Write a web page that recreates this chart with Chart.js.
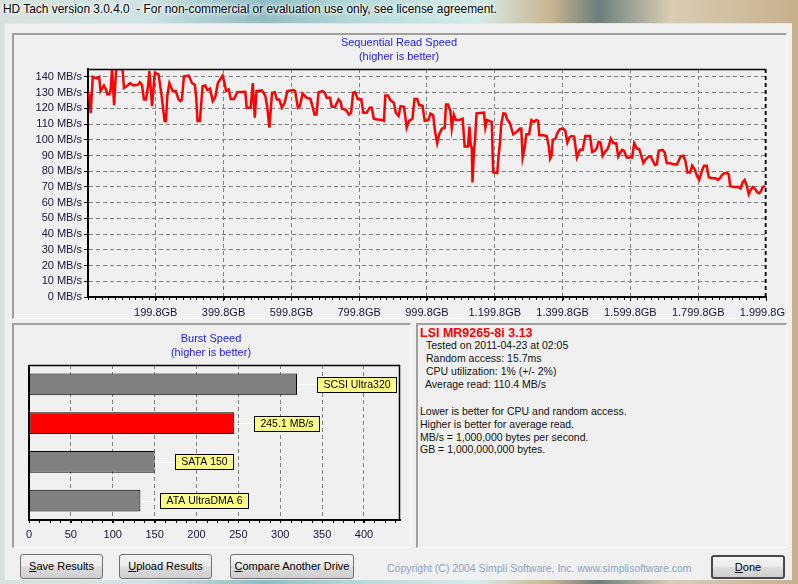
<!DOCTYPE html>
<html>
<head>
<meta charset="utf-8">
<title>HD Tach</title>
<script src="https://cdn.jsdelivr.net/npm/chart.js@4.4.0/dist/chart.umd.min.js"></script>
<style>
  body {
    margin: 0; width: 798px; height: 584px; position: relative; overflow: hidden;
    font-family: "Liberation Sans", Arial, sans-serif;
    background: linear-gradient(90deg, #d8e2dc 0%, #cfe4e4 18%, #8fbcc4 33%, #b8dcdc 46%, #d6ece8 60%, #c9b48f 69%, #6c7f7c 75%, #d9cdb3 84%, #c7b08e 100%);
  }
  .abs { position: absolute; }
  #caption {
    left: 3px; top: 2px; font-size: 11.9px; color: #000; white-space: pre;
    text-shadow: 0 0 6px #fff, 0 0 4px #fff, 0 0 2px #fff;
  }
  #client {
    left: 4px; top: 23px; width: 788px; height: 557px; background: #f0f0f0;
    border-top: 1px solid #dfe6ea; border-left: 1px solid #dfe6ea;
    box-sizing: border-box;
  }
  .panel {
    box-sizing: border-box; overflow: hidden; background: #f0f0f0;
    border-top: 2px solid #a0a0a0; border-left: 2px solid #a0a0a0;
    border-right: 1px solid #fff; border-bottom: 1px solid #fff;
  }
  .panel canvas { position: absolute; left: 0; top: 0; }
  .info { font-size: 10.5px; line-height: 13px; color: #111; white-space: pre; }
  .btn {
    box-sizing: border-box; font-size: 11px; color: #000; text-align: center;
    border: 1px solid #707070; border-radius: 3px;
    background: linear-gradient(#f3f3f3, #ebebeb 48%, #dddddd 52%, #cfcfcf);
  }
</style>
</head>
<body>
<div id="caption" class="abs">HD Tach version 3.0.4.0  - For non-commercial or evaluation use only, see license agreement.</div>
<div id="client" class="abs"></div>

<div class="abs panel" style="left:12px; top:33px; width:775px; height:286px;">
  <canvas id="readChart" width="784" height="281"></canvas>
</div>

<div class="abs panel" style="left:12px; top:323px; width:399px; height:225px;">
  <canvas id="burstChart" width="396" height="222"></canvas>
</div>

<div class="abs panel" style="left:416px; top:323px; width:371px; height:225px;"></div>
<div class="abs info" style="left:420px; top:326.5px; font-size:12.5px; font-weight:bold; color:#f00;">LSI MR9265-8i 3.13</div>
<div class="abs info" style="left:426px; top:339px;">Tested on 2011-04-23 at 02:05</div>
<div class="abs info" style="left:426px; top:352px;">Random access: 15.7ms</div>
<div class="abs info" style="left:426px; top:365px;">CPU utilization: 1% (+/- 2%)</div>
<div class="abs info" style="left:425px; top:378px;">Average read: 110.4 MB/s</div>
<div class="abs info" style="left:420px; top:404.5px;">Lower is better for CPU and random access.</div>
<div class="abs info" style="left:420px; top:417.5px;">Higher is better for average read.</div>
<div class="abs info" style="left:420px; top:430.5px;">MB/s = 1,000,000 bytes per second.</div>
<div class="abs info" style="left:420px; top:443px;">GB = 1,000,000,000 bytes.</div>

<div class="abs btn" style="left:20px; top:554px; width:83px; height:25px; line-height:23px;"><u>S</u>ave Results</div>
<div class="abs btn" style="left:119px; top:554px; width:93px; height:25px; line-height:23px;"><u>U</u>pload Results</div>
<div class="abs btn" style="left:230px; top:554px; width:124px; height:25px; line-height:23px;"><u>C</u>ompare Another Drive</div>
<div class="abs" style="left:387px; top:561.5px; font-size:10.5px; color:#8aa2c6; white-space:pre;">Copyright (C) 2004 Simpli Software, Inc. www.simplisoftware.com</div>
<div class="abs btn" style="left:711px; top:555px; width:74px; height:24px; line-height:20px; border:2px solid #4a4a4a;"><u>D</u>one</div>

<script>
// sequential read: drive position (GB) and read speed (MB/s)
const positionGB = [
  0, 4, 8, 14, 26, 33, 37, 43, 47, 53, 57, 63, 67, 71, 73, 77, 83, 102, 106, 114,
  124, 134, 148, 153, 159, 165, 171, 177, 181, 189, 197, 208, 216, 222, 226, 230, 234, 240, 250, 259,
  267, 273, 277, 283, 297, 307, 315, 319, 323, 330, 338, 346, 352, 360, 368, 375, 383, 397, 403, 407,
  415, 421, 431, 440, 464, 468, 480, 486, 492, 497, 513, 523, 529, 535, 543, 551, 557, 564, 572, 580,
  588, 606, 611, 619, 625, 633, 645, 656, 662, 668, 674, 680, 692, 698, 704, 714, 719, 729, 739, 745,
  749, 761, 770, 776, 782, 788, 796, 806, 812, 822, 831, 837, 843, 849, 867, 873, 877, 885, 892, 902,
  908, 916, 922, 932, 940, 947, 957, 963, 971, 977, 983, 987, 993, 1004, 1010, 1018, 1024, 1030, 1036, 1044,
  1052, 1056, 1062, 1069, 1073, 1079, 1085, 1095, 1105, 1111, 1121, 1125, 1129, 1132, 1134, 1138, 1142, 1146, 1168, 1172,
  1177, 1183, 1191, 1195, 1207, 1211, 1215, 1219, 1225, 1231, 1236, 1244, 1254, 1262, 1274, 1278, 1282, 1288, 1293, 1301,
  1308, 1316, 1322, 1328, 1331, 1343, 1353, 1359, 1363, 1367, 1371, 1379, 1385, 1392, 1402, 1408, 1414, 1420, 1426, 1434,
  1442, 1446, 1451, 1459, 1467, 1481, 1487, 1495, 1501, 1506, 1512, 1518, 1524, 1532, 1536, 1542, 1550, 1558, 1564, 1569,
  1575, 1581, 1589, 1599, 1605, 1611, 1619, 1626, 1632, 1638, 1644, 1654, 1660, 1666, 1672, 1678, 1683, 1695, 1701, 1707,
  1717, 1725, 1737, 1742, 1748, 1756, 1762, 1768, 1776, 1782, 1790, 1796, 1803, 1811, 1817, 1825, 1831, 1841, 1851, 1858,
  1864, 1870, 1876, 1886, 1890, 1894, 1906, 1918, 1925, 1931, 1937, 1943, 1949, 1955, 1961, 1968, 1974, 1980, 1986, 1990,
  1998
];
const readMBs = [
  130, 128, 117, 140, 139, 140, 131, 133, 134.5, 132, 129, 129, 132, 145, 145, 122, 145, 145, 133, 134,
  136, 134.5, 135, 136.5, 135, 125.6, 125.6, 134, 143.6, 121.4, 142.5, 141.5, 130, 119, 112, 112, 128, 136, 131, 131,
  125.6, 124.6, 125.6, 140.4, 140.8, 136, 135, 127.6, 112, 112, 134, 134.5, 131.6, 132.5, 124.6, 126.8, 136, 140.8, 136, 131,
  132, 126, 126, 130.3, 130.5, 120.4, 120.4, 136, 114, 131, 131.4, 128, 120.4, 107.7, 129.9, 130.3, 125.6, 125.6, 120.4, 123.5,
  131, 131.6, 131, 120.4, 121.4, 129.5, 126.7, 126, 121.4, 116, 116, 130.3, 131, 130, 126.7, 126.7, 121, 121, 125.7, 124.2,
  119.7, 119, 116, 117.2, 129.9, 130.3, 125.7, 125.7, 117.2, 117.2, 120.4, 120.4, 113.4, 113, 112.6, 112, 128.2, 128.2, 125.2, 123.5,
  117.2, 115.1, 121.4, 121, 107.7, 112, 113.4, 126, 126, 121.9, 121.9, 121.4, 112, 112.4, 116.6, 115.7, 104.6, 97.8, 103.5, 107.1,
  107.5, 122.5, 122.5, 118.3, 107.3, 116, 112.6, 112.6, 113.4, 95.7, 95.7, 108.4, 96.5, 95, 72.9, 90.8, 101.4, 116.8, 117.2, 107.7,
  112.6, 112, 111.3, 79.2, 78.8, 89.4, 97.8, 110, 116.8, 116.6, 113, 110.9, 103.5, 104.6, 107.1, 107.1, 88.7, 95, 103.5, 103.5,
  112.5, 111.3, 112.6, 112, 102.8, 102.8, 102.4, 96, 88, 89.8, 99.9, 100.7, 104.6, 106.7, 107.1, 105.6, 98.2, 101.4, 102.4, 102,
  88.7, 90.8, 93.6, 93.6, 102.4, 102.4, 92.3, 93, 95, 98.7, 98.2, 89.8, 92, 94, 96, 100.7, 97.8, 97.8, 89.4, 91.5,
  93.6, 93, 88.7, 88.7, 88.7, 97.8, 94.5, 94, 89.8, 85.2, 87.3, 89.4, 89.4, 86.6, 84, 84.4, 93, 93.6, 91.9, 85.2,
  85, 84.6, 84.2, 86.6, 89.4, 89.8, 86.6, 79.2, 79.2, 83.5, 81, 77.1, 74.5, 80.3, 83.5, 83.5, 76.2, 75.6, 75.6, 74.5,
  75.6, 77.5, 78.7, 78.7, 78, 70.5, 69.9, 69.9, 69.1, 73, 74.5, 70.7, 65.4, 68.2, 69.9, 68.7, 66.6, 66, 67.6, 69.9,
  70.5
];
const readTicksY = [0, 10, 20, 30, 40, 50, 60, 70, 80, 90, 100, 110, 120, 130, 140];
const readTicksX = [199.8, 399.8, 599.8, 799.8, 999.8, 1199.8, 1399.8, 1599.8, 1799.8, 1999.8];

// burst speed
const burstLabels = ['SCSI Ultra320', '245.1 MB/s', 'SATA 150', 'ATA UltraDMA 6'];
const burstValues = [320, 245.1, 150, 133];
const burstColors = ['#808080', '#ff0000', '#808080', '#808080'];
const burstTicks = [0, 50, 100, 150, 200, 250, 300, 350, 400];

Chart.defaults.font.family = '"Liberation Sans", Arial, sans-serif';
Chart.defaults.font.size = 11;
Chart.defaults.color = '#14143c';

const frame = {
  id: 'frame',
  afterDraw(chart, args, opts) {
    const ctx = chart.ctx, a = chart.chartArea;
    const xs = chart.scales.x;
    ctx.save();
    // titles
    ctx.fillStyle = '#2020ff';
    ctx.font = '11px "Liberation Sans", Arial, sans-serif';
    ctx.textAlign = 'center';
    ctx.textBaseline = 'middle';
    opts.titles.forEach((t, i) => ctx.fillText(t, opts.titleX, opts.titleY[i]));
    // small ticks under the x axis
    ctx.strokeStyle = '#000';
    ctx.lineWidth = 1;
    ctx.beginPath();
    for (let v = 0; v <= xs.max; v += opts.minorStep) {
      const px = Math.round(xs.getPixelForValue(v)) + 0.5;
      ctx.moveTo(px, a.bottom);
      ctx.lineTo(px, a.bottom + 3);
    }
    ctx.stroke();
    // top and right edges
    ctx.lineWidth = opts.edgeWidth;
    ctx.beginPath();
    ctx.moveTo(a.left, Math.round(a.top) + 0.5);
    ctx.lineTo(a.right, Math.round(a.top) + 0.5);
    ctx.stroke();
    if (opts.rightDash) ctx.setLineDash(opts.rightDash);
    ctx.beginPath();
    ctx.moveTo(Math.round(a.right) - 0.5, a.top);
    ctx.lineTo(Math.round(a.right) - 0.5, a.bottom);
    ctx.stroke();
    ctx.setLineDash([]);
    if (opts.leftEdge) {
      ctx.lineWidth = 2;
      ctx.beginPath();
      ctx.moveTo(a.left, a.top);
      ctx.lineTo(a.left, a.bottom);
      ctx.stroke();
    }
    ctx.restore();
  }
};

const burstTags = {
  id: 'burstTags',
  afterDatasetsDraw(chart) {
    const ctx = chart.ctx;
    const meta = chart.getDatasetMeta(0);
    ctx.save();
    ctx.font = '10.5px "Liberation Sans", Arial, sans-serif';
    ctx.textAlign = 'center';
    ctx.textBaseline = 'middle';
    meta.data.forEach((bar, i) => {
      const text = burstLabels[i];
      const w = Math.round(ctx.measureText(text).width + 12);
      const h = 15;
      const x0 = Math.round(bar.x + 20) + 0.5;
      const y0 = Math.round(bar.y - h / 2) + 0.5;
      ctx.strokeStyle = '#ffffff';
      ctx.lineWidth = 1;
      ctx.beginPath();
      ctx.moveTo(bar.x + 1, Math.round(bar.y) + 0.5);
      ctx.lineTo(x0, Math.round(bar.y) + 0.5);
      ctx.stroke();
      ctx.fillStyle = '#ffff88';
      ctx.fillRect(x0, y0, w, h);
      ctx.strokeStyle = '#000';
      ctx.strokeRect(x0, y0, w, h);
      ctx.fillStyle = '#000';
      ctx.fillText(text, x0 + w / 2, y0 + h / 2 + 0.5);
    });
    ctx.restore();
  }
};

new Chart(document.getElementById('readChart'), {
  type: 'line',
  data: {
    datasets: [{
      data: positionGB.map((g, i) => ({ x: g, y: readMBs[i] })),
      borderColor: '#ff0000',
      borderWidth: 2.5,
      pointRadius: 0,
      tension: 0
    }]
  },
  options: {
    responsive: false,
    animation: false,
    layout: { padding: { left: 0, right: 32, top: 34, bottom: 0 } },
    scales: {
      x: {
        type: 'linear',
        min: 0,
        max: 1999.8,
        afterBuildTicks: s => { s.ticks = readTicksX.map(v => ({ value: v })); },
        afterFit: s => { s.height = 19; },
        ticks: {
          autoSkip: false, maxRotation: 0, padding: 5, color: '#14143c',
          callback: v => v.toLocaleString('en-US', { minimumFractionDigits: 1, maximumFractionDigits: 1 }) + 'GB'
        },
        grid: { color: '#808080', tickColor: '#000', tickLength: 4 },
        border: { display: true, color: '#000', width: 2, dash: [4, 3] }
      },
      y: {
        min: 0,
        max: 145,
        afterBuildTicks: s => { s.ticks = readTicksY.map(v => ({ value: v })); },
        afterFit: s => { s.width = 74; },
        ticks: { padding: 2, color: '#14143c', callback: v => v + ' MB/s' },
        grid: { color: '#808080', tickColor: '#000', tickLength: 4 },
        border: { display: true, color: '#000', width: 2, dash: [4, 3] }
      }
    },
    plugins: {
      legend: { display: false },
      tooltip: { enabled: false },
      frame: {
        titles: ['Sequential Read Speed', '(higher is better)'],
        titleX: 385, titleY: [8, 22],
        minorStep: 20, edgeWidth: 1.5, rightDash: [4, 3]
      }
    }
  },
  plugins: [frame]
});

new Chart(document.getElementById('burstChart'), {
  type: 'bar',
  data: {
    labels: burstLabels,
    datasets: [{
      data: burstValues,
      backgroundColor: burstColors,
      borderColor: '#000',
      borderWidth: 1,
      borderSkipped: false,
      barPercentage: 0.555,
      categoryPercentage: 1
    }]
  },
  options: {
    indexAxis: 'y',
    responsive: false,
    animation: false,
    layout: { padding: { left: 15, right: 10, top: 40, bottom: 0 } },
    scales: {
      x: {
        min: 0,
        max: 443,
        afterBuildTicks: s => { s.ticks = burstTicks.map(v => ({ value: v })); },
        afterFit: s => { s.height = 27; },
        ticks: { autoSkip: false, maxRotation: 0, padding: 5, color: '#14143c' },
        grid: { color: '#808080', tickColor: '#000', tickLength: 3 },
        border: { display: true, color: '#000', width: 2, dash: [4, 3] }
      },
      y: { display: false }
    },
    plugins: {
      legend: { display: false },
      tooltip: { enabled: false },
      frame: {
        titles: ['Burst Speed', '(higher is better)'],
        titleX: 197, titleY: [14, 28],
        minorStep: 12.5, edgeWidth: 1.5, leftEdge: true
      }
    }
  },
  plugins: [frame, burstTags]
});
</script>
</body>
</html>
